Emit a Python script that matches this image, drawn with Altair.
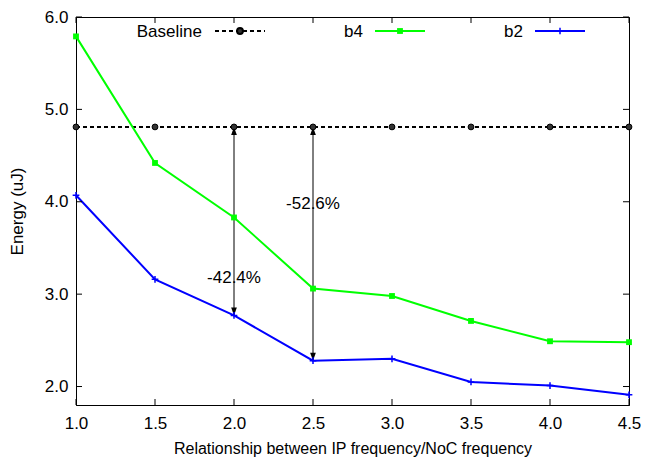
import altair as alt
import pandas as pd

# ---- data ----
freq = [1.0, 1.5, 2.0, 2.5, 3.0, 3.5, 4.0, 4.5]
baseline = [4.81] * 8
b4 = [5.79, 4.42, 3.83, 3.06, 2.98, 2.71, 2.49, 2.48]
b2 = [4.07, 3.16, 2.77, 2.28, 2.30, 2.05, 2.01, 1.91]

arrow_x = [2.0, 2.5]
arrow_top = [4.81, 4.81]
arrow_bottom = [2.77, 2.28]
arrow_label = ["-42.4%", "-52.6%"]
label_y = [3.18, 3.98]

x_ticks = [1.0, 1.5, 2.0, 2.5, 3.0, 3.5, 4.0, 4.5]
y_ticks = [2.0, 3.0, 4.0, 5.0, 6.0]

W, H = 553, 388
FONT = "Liberation Sans"
FS = 17
GREEN = "#00ff00"
BLUE = "#0000ff"

xs = alt.Scale(domain=[1.0, 4.5], nice=False, zero=False)
ys = alt.Scale(domain=[1.8, 6.0], nice=False, zero=False)

df = pd.DataFrame({"f": freq, "base": baseline, "b4": b4, "b2": b2})
arr = pd.DataFrame({"x": arrow_x, "top": arrow_top, "bot": arrow_bottom,
                    "lab": arrow_label, "ly": label_y})

X = alt.X("f:Q", scale=xs, axis=alt.Axis(values=x_ticks, format=".1f", ticks=False, labelFlush=False,
          title="Relationship between IP frequency/NoC frequency", labelPadding=10,
          titlePadding=9, titleFontSize=16))
Y = alt.Y("base:Q", scale=ys, axis=alt.Axis(values=y_ticks, format=".1f", ticks=False, labelFlush=False,
          title="Energy (uJ)", labelPadding=8, titlePadding=18))

base_line = alt.Chart(df).mark_line(color="black", strokeWidth=2, strokeDash=[4, 3]).encode(x=X, y=Y)
base_pts = alt.Chart(df).mark_point(shape="circle", size=34, filled=True, fill="#333333",
                                    stroke="black", strokeWidth=1, opacity=1).encode(x="f:Q", y="base:Q")

b4_line = alt.Chart(df).mark_line(color=GREEN, strokeWidth=2).encode(x="f:Q", y="b4:Q")
b4_pts = alt.Chart(df).mark_point(shape="square", size=34, filled=True, color=GREEN, opacity=1).encode(x="f:Q", y="b4:Q")

b2_line = alt.Chart(df).mark_line(color=BLUE, strokeWidth=2).encode(x="f:Q", y="b2:Q")
plus = "M-1,0L1,0M0,-1L0,1"
b2_pts = alt.Chart(df).mark_point(shape=plus, size=45, filled=False, stroke=BLUE, strokeWidth=1.5, opacity=1).encode(x="f:Q", y="b2:Q")

arrow_rule = alt.Chart(arr).mark_rule(color="black", strokeWidth=1).encode(x="x:Q", y="top:Q", y2="bot:Q")
up_head = "M0,0L-0.5,1.4L0.5,1.4Z"
down_head = "M0,0L-0.5,-1.4L0.5,-1.4Z"
head_top = alt.Chart(arr).mark_point(shape=up_head, size=130, filled=True, color="black", opacity=1).encode(x="x:Q", y="top:Q")
head_bot = alt.Chart(arr).mark_point(shape=down_head, size=130, filled=True, color="black", opacity=1).encode(x="x:Q", y="bot:Q")
arrow_text = alt.Chart(arr).mark_text(font=FONT, fontSize=FS, color="black").encode(x="x:Q", y="ly:Q", text="lab:N")

# inward ticks (mirrored)
xt = pd.DataFrame({"t": x_ticks})
yt = pd.DataFrame({"t": y_ticks})
tick_b = alt.Chart(xt).mark_rule(color="black").encode(x="t:Q", y=alt.value(H), y2=alt.value(H - 6))
tick_t = alt.Chart(xt).mark_rule(color="black").encode(x="t:Q", y=alt.value(0), y2=alt.value(6))
tick_l = alt.Chart(yt).mark_rule(color="black").encode(y="t:Q", x=alt.value(0), x2=alt.value(6))
tick_r = alt.Chart(yt).mark_rule(color="black").encode(y="t:Q", x=alt.value(W), x2=alt.value(W - 6))

# manual gnuplot-style key
names = ["Baseline", "b4", "b2"]
key_text_x = [126, 287, 447]
key_y = 14
layers_key = []
for name, tx, col in zip(names, key_text_x, ["black", GREEN, BLUE]):
    kd = pd.DataFrame({"n": [name]})
    layers_key.append(alt.Chart(kd).mark_text(font=FONT, fontSize=FS, align="right", baseline="middle", color="black")
                      .encode(text="n:N", x=alt.value(tx), y=alt.value(key_y + 1)))
    if name == "Baseline":
        layers_key.append(alt.Chart(kd).mark_rule(color="black", strokeWidth=2, strokeDash=[4, 3])
                          .encode(x=alt.value(tx + 13), x2=alt.value(tx + 63), y=alt.value(key_y)))
        layers_key.append(alt.Chart(kd).mark_point(shape="circle", size=34, filled=True, fill="#333333",
                                                   stroke="black", opacity=1)
                          .encode(x=alt.value(tx + 38), y=alt.value(key_y)))
    else:
        layers_key.append(alt.Chart(kd).mark_rule(color=col, strokeWidth=2)
                          .encode(x=alt.value(tx + 12), x2=alt.value(tx + 62), y=alt.value(key_y)))
        if name == "b4":
            layers_key.append(alt.Chart(kd).mark_point(shape="square", size=34, filled=True, color=col, opacity=1)
                              .encode(x=alt.value(tx + 37), y=alt.value(key_y)))
        else:
            layers_key.append(alt.Chart(kd).mark_point(shape=plus, size=45, filled=False, stroke=col,
                                                       strokeWidth=1.5, opacity=1)
                              .encode(x=alt.value(tx + 37), y=alt.value(key_y)))

chart = alt.layer(
    base_line, b4_line, b2_line, arrow_rule, head_top, head_bot,
    base_pts, b4_pts, b2_pts, arrow_text,
    tick_b, tick_t, tick_l, tick_r, *layers_key
).properties(
    width=W, height=H,
    autosize=alt.AutoSizeParams(type="none"),
    padding={"left": 68, "top": 9, "right": 12, "bottom": 53},
).configure_view(
    stroke="black", strokeWidth=1
).configure_axis(
    labelFont=FONT, titleFont=FONT, labelFontSize=FS, titleFontSize=FS,
    labelColor="black", titleColor="black", titleFontWeight="normal",
    domainColor="black", grid=False
)

chart.save("out.html", embed_options={"renderer": "svg", "actions": False})
